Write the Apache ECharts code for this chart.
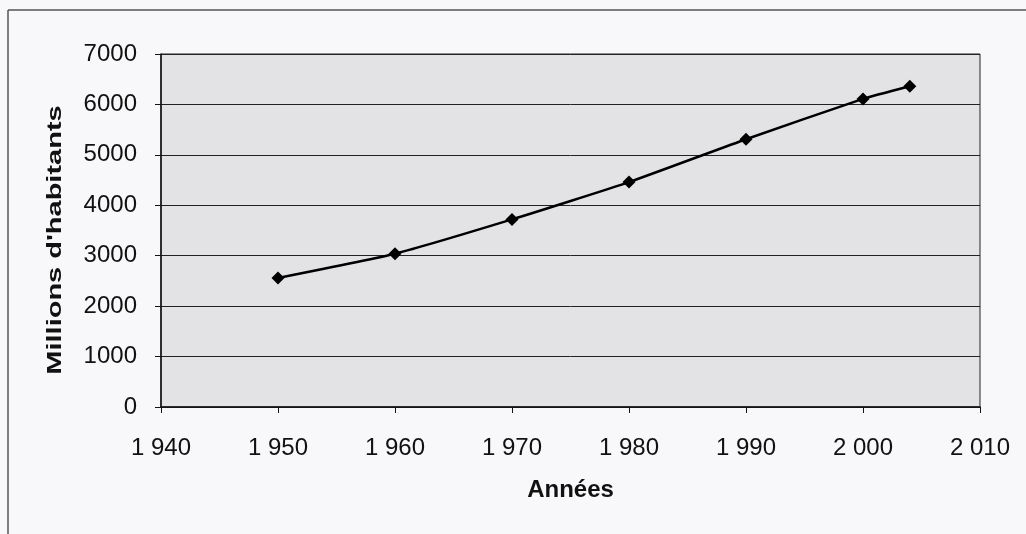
<!DOCTYPE html>
<html>
<head>
<meta charset="utf-8">
<script src="https://cdn.jsdelivr.net/npm/echarts@6/dist/echarts.min.js"></script>
<style>
  html, body { margin: 0; padding: 0; background: #f8f8fa; }
  #chart { width: 1026px; height: 534px; }
</style>
</head>
<body>
<div id="chart"></div>
<script>
// population mondiale (millions)
var years = [1950, 1960, 1970, 1980, 1990, 2000, 2004];
var population = [2560, 3040, 3720, 4460, 5310, 6110, 6360];

var chart = echarts.init(document.getElementById('chart'));

// "1 940" style thousands separator
function fmtYear(v) {
  var s = String(v);
  return s.slice(0, 1) + ' ' + s.slice(1);
}

chart.setOption({
  backgroundColor: '#f8f8fa',
  textStyle: { fontFamily: 'Liberation Sans, Arial, sans-serif' },
  graphic: [
    { type: 'line', shape: { x1: 8, y1: 10, x2: 1026, y2: 10 }, style: { stroke: '#555', lineWidth: 1.5 } },
    { type: 'line', shape: { x1: 8, y1: 10, x2: 8, y2: 534 }, style: { stroke: '#555', lineWidth: 1.5 } },
    {
      // y axis title, stretched along its length like the original
      type: 'text',
      x: 55,
      y: 240,
      rotation: Math.PI / 2,
      scaleX: 1.38,
      style: {
        text: "Millions d'habitants",
        font: 'bold 21px "Liberation Sans", Arial, sans-serif',
        fill: '#111',
        align: 'center',
        verticalAlign: 'middle'
      }
    }
  ],
  grid: {
    left: 161,
    right: 46,
    top: 54,
    bottom: 127,
    show: true,
    backgroundColor: '#e3e3e5',
    borderColor: '#222',
    borderWidth: 1
  },
  xAxis: {
    type: 'value',
    min: 1940,
    max: 2010,
    interval: 10,
    name: 'Années',
    nameLocation: 'middle',
    nameGap: 71,
    nameTextStyle: { fontSize: 24, fontWeight: 'bold', color: '#111' },
    axisLine: { show: true, lineStyle: { color: '#111', width: 1.5 } },
    axisTick: { show: true, length: 6, lineStyle: { color: '#111' } },
    axisLabel: { fontSize: 24, color: '#111', margin: 29, formatter: fmtYear },
    splitLine: { show: false }
  },
  yAxis: {
    type: 'value',
    min: 0,
    max: 7000,
    interval: 1000,
    axisLine: { show: true, lineStyle: { color: '#111', width: 1.5 } },
    axisTick: { show: true, length: 6, lineStyle: { color: '#111' } },
    axisLabel: { fontSize: 24, color: '#111', margin: 24, formatter: function (v) { return String(v); } },
    splitLine: { show: true, lineStyle: { color: '#222', width: 1 } }
  },
  series: [
    {
      type: 'line',
      data: years.map(function (y, i) { return [y, population[i]]; }),
      smooth: 0.15,
      symbol: 'diamond',
      symbolSize: 13,
      lineStyle: { color: '#000', width: 2.5 },
      itemStyle: { color: '#000' }
    }
  ],
  animation: false
});
</script>
</body>
</html>
